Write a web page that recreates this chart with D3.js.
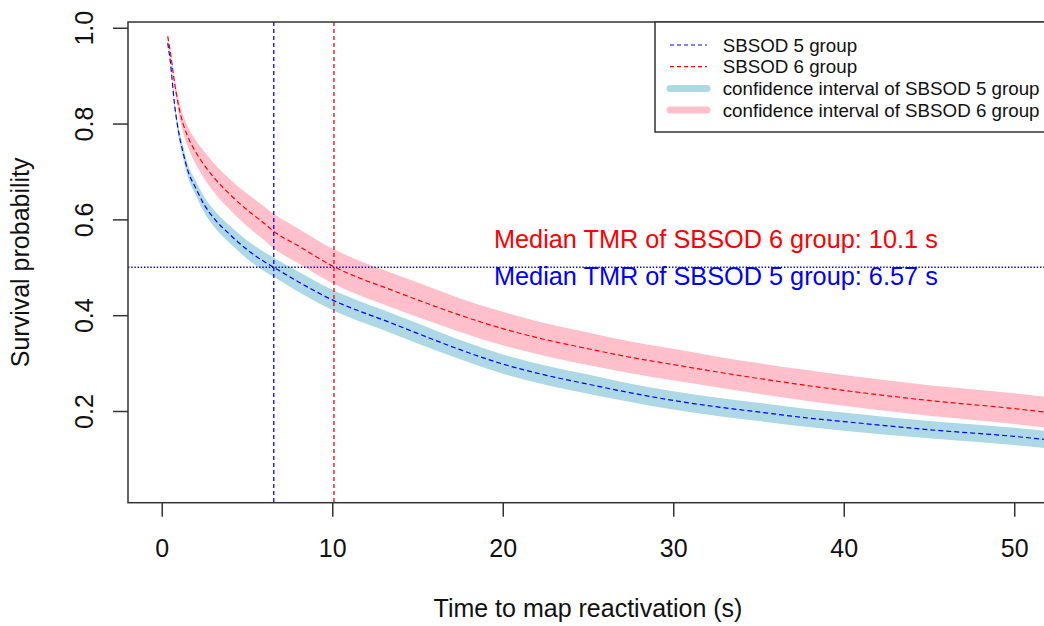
<!DOCTYPE html>
<html lang="en">
<head>
<meta charset="UTF-8">
<title>Survival curves</title>
<style>
    body { margin: 0; background: #fff; }
    svg { display: block; font-family: "Liberation Sans", Arial, sans-serif; }
</style>
</head>
<body>
<div id="chart"></div>
<script src="https://d3js.org/d3.v7.min.js"></script>
<script>
const times = [0.35, 0.5, 0.75, 1, 1.25, 1.5, 2, 2.5, 3, 4, 5, 6, 6.57, 8, 10, 12, 13, 15, 17.5, 20, 22.5, 25, 27.5, 30, 32.5, 35, 37.5, 40, 45, 50, 52];

// SBSOD 5 group
const sbsod5 = [0.968, 0.93, 0.84, 0.78, 0.74, 0.705, 0.665, 0.63, 0.605, 0.568, 0.537, 0.512, 0.500, 0.470, 0.432, 0.403, 0.390, 0.362, 0.328, 0.298, 0.275, 0.256, 0.238, 0.222, 0.209, 0.198, 0.187, 0.178, 0.161, 0.147, 0.140];
const sbsod5Lo = [0.964, 0.924, 0.832, 0.770, 0.728, 0.692, 0.650, 0.614, 0.588, 0.550, 0.518, 0.492, 0.480, 0.449, 0.411, 0.382, 0.369, 0.341, 0.308, 0.278, 0.255, 0.236, 0.219, 0.203, 0.190, 0.179, 0.168, 0.159, 0.143, 0.129, 0.122];
const sbsod5Hi = [0.972, 0.936, 0.848, 0.790, 0.752, 0.718, 0.680, 0.646, 0.622, 0.586, 0.556, 0.532, 0.520, 0.491, 0.453, 0.424, 0.411, 0.383, 0.348, 0.318, 0.295, 0.276, 0.257, 0.241, 0.228, 0.217, 0.206, 0.197, 0.179, 0.165, 0.158];

// SBSOD 6 group
const sbsod6 = [0.982, 0.95, 0.885, 0.835, 0.80, 0.775, 0.74, 0.713, 0.69, 0.652, 0.620, 0.592, 0.575, 0.545, 0.503, 0.472, 0.459, 0.432, 0.400, 0.372, 0.349, 0.330, 0.312, 0.297, 0.282, 0.268, 0.255, 0.243, 0.222, 0.205, 0.197];
const sbsod6Lo = [0.978, 0.943, 0.874, 0.820, 0.782, 0.754, 0.715, 0.685, 0.660, 0.620, 0.586, 0.557, 0.539, 0.509, 0.467, 0.436, 0.423, 0.396, 0.365, 0.337, 0.315, 0.296, 0.279, 0.264, 0.250, 0.236, 0.223, 0.211, 0.190, 0.173, 0.165];
const sbsod6Hi = [0.986, 0.957, 0.896, 0.850, 0.818, 0.796, 0.765, 0.741, 0.720, 0.684, 0.654, 0.627, 0.611, 0.581, 0.539, 0.508, 0.495, 0.468, 0.435, 0.407, 0.383, 0.364, 0.345, 0.330, 0.314, 0.300, 0.287, 0.275, 0.254, 0.237, 0.229];

const medians = [6.57, 10.1];
const xTicks = [0, 10, 20, 30, 40, 50];
const yTicks = [0.2, 0.4, 0.6, 0.8, 1.0];
const legendLabels = ["SBSOD 5 group", "SBSOD 6 group", "confidence interval of SBSOD 5 group", "confidence interval of SBSOD 6 group"];

const width = 1044, height = 626;
const plotLeft = 128, plotRight = 1048, plotTop = 22, plotBottom = 502.7;

const x = d3.scaleLinear().domain([-1.98, 51.98]).range([plotLeft, plotRight]);
const y = d3.scaleLinear().domain([0.0086, 1.012]).range([plotBottom, plotTop]);

const svg = d3.select("#chart").append("svg")
    .attr("width", width)
    .attr("height", height)
    .attr("viewBox", [0, 0, width, height]);

svg.append("rect").attr("width", width).attr("height", height).attr("fill", "#fff");

svg.append("clipPath").attr("id", "plot")
    .append("rect")
    .attr("x", plotLeft).attr("y", plotTop)
    .attr("width", plotRight - plotLeft).attr("height", plotBottom - plotTop);

const g = svg.append("g").attr("clip-path", "url(#plot)");

const band = (lo, hi) => d3.area()
    .curve(d3.curveMonotoneX)
    .x((d, i) => x(times[i]))
    .y0((d, i) => y(lo[i]))
    .y1((d, i) => y(hi[i]))(times);

const curve = s => d3.line()
    .curve(d3.curveMonotoneX)
    .x((d, i) => x(times[i]))
    .y((d, i) => y(s[i]))(times);

g.append("path").attr("d", band(sbsod5Lo, sbsod5Hi)).attr("fill", "lightblue");
g.append("path").attr("d", band(sbsod6Lo, sbsod6Hi)).attr("fill", "pink");

g.append("path").attr("d", curve(sbsod5))
    .attr("fill", "none").attr("stroke", "blue").attr("stroke-width", 1.2).attr("stroke-dasharray", "5,3");
g.append("path").attr("d", curve(sbsod6))
    .attr("fill", "none").attr("stroke", "red").attr("stroke-width", 1.2).attr("stroke-dasharray", "5,3");

// median lines
g.selectAll(".median")
    .data(medians)
    .join("line")
    .attr("x1", d => x(d)).attr("x2", d => x(d))
    .attr("y1", plotTop).attr("y2", plotBottom)
    .attr("stroke", (d, i) => i === 0 ? "blue" : "red")
    .attr("stroke-width", 1.3)
    .attr("stroke-dasharray", "4,3");

g.append("line")
    .attr("x1", plotLeft).attr("x2", plotRight)
    .attr("y1", y(0.5)).attr("y2", y(0.5))
    .attr("stroke", "blue").attr("stroke-width", 1.4)
    .attr("stroke-dasharray", "1.4,1.8");

// annotations
svg.append("text")
    .attr("x", x(32.5)).attr("y", y(0.540))
    .attr("text-anchor", "middle").attr("font-size", 25.3).attr("fill", "red")
    .text("Median TMR of SBSOD 6 group: 10.1 s");
svg.append("text")
    .attr("x", x(32.5)).attr("y", y(0.462))
    .attr("text-anchor", "middle").attr("font-size", 25.3).attr("fill", "blue")
    .text("Median TMR of SBSOD 5 group: 6.57 s");

// box
svg.append("rect")
    .attr("x", plotLeft).attr("y", plotTop)
    .attr("width", plotRight - plotLeft).attr("height", plotBottom - plotTop)
    .attr("fill", "none").attr("stroke", "#333").attr("stroke-width", 1.5);

// x axis
svg.append("g")
    .attr("transform", `translate(0,${plotBottom})`)
    .call(d3.axisBottom(x).tickValues(xTicks).tickSize(14).tickPadding(23).tickSizeOuter(0))
    .call(a => a.select(".domain").remove())
    .call(a => a.selectAll("line").attr("stroke", "#333").attr("stroke-width", 1.5))
    .call(a => a.selectAll("text").attr("font-size", 25).attr("fill", "#111")
        .attr("font-family", "Liberation Sans, Arial, sans-serif"));

// y axis
svg.append("g")
    .attr("transform", `translate(${plotLeft},0)`)
    .call(d3.axisLeft(y).tickValues(yTicks).tickSize(15).tickFormat(d3.format(".1f")).tickSizeOuter(0))
    .call(a => a.select(".domain").remove())
    .call(a => a.selectAll("line").attr("stroke", "#333").attr("stroke-width", 1.5))
    .call(a => a.selectAll("text")
        .attr("x", null).attr("dy", null)
        .attr("transform", "translate(-35,0) rotate(-90)")
        .attr("text-anchor", "middle")
        .attr("font-size", 25).attr("fill", "#111")
        .attr("font-family", "Liberation Sans, Arial, sans-serif"));

// axis titles
svg.append("text")
    .attr("x", (plotLeft + plotRight) / 2).attr("y", 617)
    .attr("text-anchor", "middle").attr("font-size", 25).attr("fill", "#111")
    .text("Time to map reactivation (s)");
svg.append("text")
    .attr("transform", `translate(29,${(plotTop + plotBottom) / 2}) rotate(-90)`)
    .attr("text-anchor", "middle").attr("font-size", 25).attr("fill", "#111")
    .text("Survival probability");

// legend
const legend = svg.append("g");
legend.append("rect")
    .attr("x", 655).attr("y", plotTop)
    .attr("width", plotRight - 655).attr("height", 110)
    .attr("fill", "#fff").attr("stroke", "#333").attr("stroke-width", 1.5);

const legendStyle = [
    { stroke: "blue", width: 1.2, dash: "4,3" },
    { stroke: "red", width: 1.2, dash: "4,3" },
    { stroke: "lightblue", width: 7, dash: null },
    { stroke: "pink", width: 7, dash: null }
];

const row = legend.selectAll(".row")
    .data(legendLabels)
    .join("g")
    .attr("transform", (d, i) => `translate(0,${45 + i * 21.7})`);

row.append("line")
    .attr("x1", 670).attr("x2", 707)
    .attr("stroke", (d, i) => legendStyle[i].stroke)
    .attr("stroke-width", (d, i) => legendStyle[i].width)
    .attr("stroke-linecap", (d, i) => i > 1 ? "round" : "butt")
    .attr("stroke-dasharray", (d, i) => legendStyle[i].dash);

row.append("text")
    .attr("x", 722.7).attr("dy", "0.35em")
    .attr("font-size", 18.75).attr("fill", "#111")
    .text(d => d);
</script>
</body>
</html>
